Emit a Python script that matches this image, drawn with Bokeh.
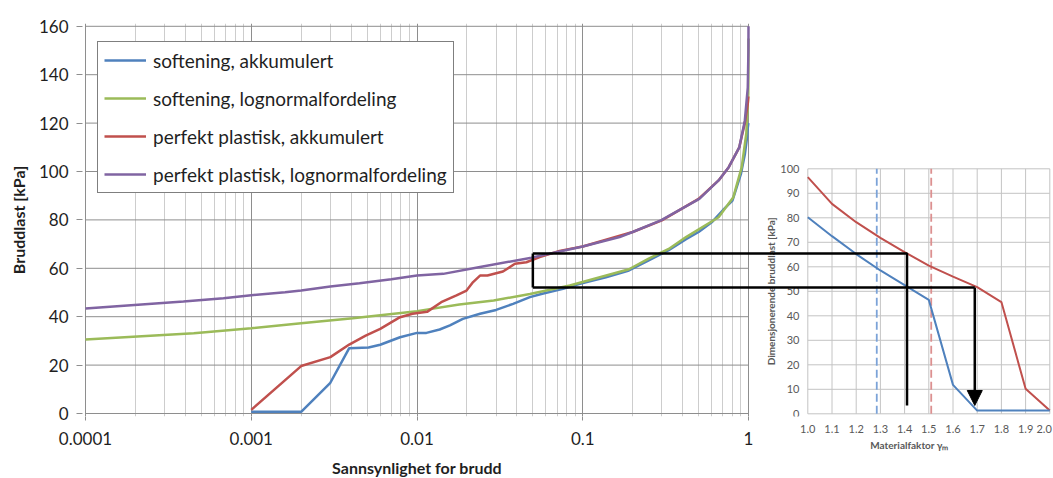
import math
from bokeh.plotting import figure
from bokeh.models import (Range1d, LinearScale, FixedTicker, Legend, LegendItem,
                          Arrow, NormalHead)
from bokeh.core.properties import value
from bokeh.embed import file_html
from bokeh.resources import INLINE

# ---------------- data ----------------
x_ticks = [0.0001, 0.001, 0.01, 0.1, 1]
x_tick_labels = ["0.0001", "0.001", "0.01", "0.1", "1"]
x_minor = [k * 10.0 ** e for e in (-4, -3, -2, -1) for k in range(2, 10)]
y_ticks = [0, 20, 40, 60, 80, 100, 120, 140, 160]

blue_p = [0.001, 0.002, 0.003, 0.0039, 0.0051, 0.006, 0.0079, 0.01, 0.0114, 0.0137,
          0.0158, 0.0189, 0.024, 0.030, 0.038, 0.048, 0.057, 0.076, 0.096, 0.138,
          0.19, 0.25, 0.33, 0.42, 0.5, 0.6, 0.7, 0.8, 0.9, 0.95, 0.98, 0.99, 0.999]
blue_y = [0.7, 0.7, 12.7, 27.0, 27.3, 28.4, 31.5, 33.3, 33.3, 34.7,
          36.4, 39.1, 41.2, 42.8, 45.3, 48.1, 49.5, 51.5, 53.6, 56.3,
          59.1, 63.3, 67.5, 72.0, 75.0, 79.0, 84.0, 88.0, 99.0, 107.0, 114.0, 118.0, 120.0]

green_p = [0.0001, 0.00045, 0.001, 0.002, 0.0041, 0.01, 0.018, 0.029, 0.048, 0.0835,
           0.19, 0.25, 0.33, 0.42, 0.66, 0.81, 0.91, 0.97, 0.997, 0.9999]
green_y = [30.6, 33.2, 35.2, 37.3, 39.4, 42.3, 45.0, 46.7, 49.4, 52.9,
           59.6, 64.0, 68.0, 72.9, 81.1, 89.4, 101.8, 115.7, 132.0, 155.0]

red_p = [0.001, 0.002, 0.003, 0.0039, 0.0049, 0.006, 0.0079, 0.0094, 0.0115, 0.014,
         0.0173, 0.0199, 0.0218, 0.024, 0.0266, 0.033, 0.039, 0.0457, 0.055, 0.0724,
         0.1, 0.2, 0.3, 0.5, 0.66, 0.76, 0.88, 0.95, 0.99, 0.998]
red_y = [1.5, 19.6, 23.3, 28.5, 32.2, 35.0, 39.8, 41.2, 42.0, 46.0,
         48.8, 50.8, 54.3, 57.0, 57.0, 58.7, 61.9, 62.5, 64.6, 67.2,
         69.0, 75.0, 79.8, 88.7, 96.3, 101.8, 110.0, 120.0, 128.0, 131.0]

purple_p = [0.0001, 0.00039, 0.00068, 0.001, 0.0016, 0.002, 0.003, 0.0045, 0.007, 0.01,
            0.0144, 0.024, 0.049, 0.1, 0.167, 0.2, 0.296, 0.505, 0.66, 0.76,
            0.88, 0.95, 0.99, 0.999, 0.9999]
purple_y = [43.4, 46.3, 47.6, 48.9, 50.1, 50.8, 52.5, 53.8, 55.5, 57.0,
            57.7, 60.5, 64.4, 69.0, 72.9, 75.0, 79.8, 88.7, 96.3, 101.8,
            110.0, 121.0, 134.7, 150.0, 160.0]

series_names = ["softening, akkumulert", "softening, lognormalfordeling",
                "perfekt plastisk, akkumulert", "perfekt plastisk, lognormalfordeling"]
series_colors = ["#4f81bd", "#9bbb59", "#c0504d", "#8064a2"]

# inset: design load vs material factor
gamma = [1.0, 1.1, 1.2, 1.3, 1.4, 1.5, 1.6, 1.7, 1.8, 1.9, 2.0]
inset_red = [96.6, 85.7, 78.2, 71.8, 66.0, 60.5, 56.0, 51.7, 45.6, 10.2, 1.3]
inset_blue = [80.2, 72.5, 65.2, 58.5, 52.5, 46.5, 11.8, 1.3, 1.3, 1.3, 1.3]
inset_x_ticks = [1.0, 1.1, 1.2, 1.3, 1.4, 1.5, 1.6, 1.7, 1.8, 1.9, 2.0]
inset_x_labels = ["1.0", "1.1", "1.2", "1.3", "1.4", "1.5", "1.6", "1.7", "1.8", "1.9", "2.0"]
inset_y_ticks = [0, 10, 20, 30, 40, 50, 60, 70, 80, 90, 100]
inset_y_labels = [str(v) for v in inset_y_ticks]
dash_blue_gamma = 1.285
dash_red_gamma = 1.51

# overlay (reading guide)
guide_p = 0.05          # probability where the box starts
level_upper = 65.4      # kPa
level_lower = 51.6      # kPa
gamma_upper = 1.41
gamma_lower = 1.69
guide_bottom = 3.4

# ---------------- layout calibration ----------------
W, H = 1053, 478
FL, FR, FT, FB = 82, 1053, 23, 416
X0_PX, DEC_PX = 85.0, 165.75      # px of 1e-4, px per decade
Y0_PX, Y_PX = 413.0, 2.42         # px of 0 kPa, px per kPa (main)
IX0_PX, IX_PX = 807.3, 242.0      # px of gamma 1.0, px per unit (inset)
IY0_PX, IY_PX = 413.3, 2.45       # px of 0 kPa, px per kPa (inset)

def main_to_inset_x(pv):
    px = X0_PX + DEC_PX * (math.log10(pv) + 4)
    return 1.0 + (px - IX0_PX) / IX_PX

FONT = "Lato"
TXT = "#1f1f1f"
GRID_MAJ = "#8e8e8e"
GRID_MIN = "#cdcdcd"

xr = Range1d(10 ** (-4 + (FL - X0_PX) / DEC_PX), 10 ** (-4 + (FR - X0_PX) / DEC_PX))
yr = Range1d((Y0_PX - FB) / Y_PX, (Y0_PX - FT) / Y_PX)

p = figure(width=W, height=H, x_axis_type="log", x_range=xr, y_range=yr,
           output_backend="svg", toolbar_location=None,
           min_border_left=FL, min_border_right=0, min_border_top=FT,
           min_border_bottom=H - FB)
p.outline_line_color = None
p.background_fill_color = "white"
p.border_fill_color = "white"

p.extra_x_ranges = {"inset": Range1d(1.0 + (FL - IX0_PX) / IX_PX, 1.0 + (FR - IX0_PX) / IX_PX)}
p.extra_x_scales = {"inset": LinearScale()}
p.extra_y_ranges = {"inset": Range1d((IY0_PX - FB) / IY_PX, (IY0_PX - FT) / IY_PX)}
p.extra_y_scales = {"inset": LinearScale()}

# main axes
xt = FixedTicker(ticks=x_ticks, minor_ticks=x_minor)
p.xaxis.ticker = xt
p.xgrid.ticker = xt
p.xaxis.major_label_overrides = dict(zip(x_ticks, x_tick_labels))
p.xaxis.axis_line_color = None
p.xaxis.major_tick_line_color = GRID_MAJ
p.xaxis.major_tick_out = 4
p.xaxis.major_tick_in = 0
p.xaxis.minor_tick_line_color = None
p.xaxis.major_label_standoff = 11
p.xaxis.major_label_text_font = FONT
p.xaxis.major_label_text_font_size = "17px"
p.xaxis.major_label_text_color = TXT
p.xaxis.bounds = (x_ticks[0], x_ticks[-1])

p.yaxis.ticker = FixedTicker(ticks=y_ticks)
p.yaxis.axis_line_color = None
p.yaxis.major_tick_line_color = GRID_MAJ
p.yaxis.major_tick_out = 6
p.yaxis.major_tick_in = 0
p.yaxis.minor_tick_line_color = None
p.yaxis.major_label_standoff = 8
p.yaxis.major_label_text_font = FONT
p.yaxis.major_label_text_font_size = "17px"
p.yaxis.major_label_text_color = TXT
p.yaxis.axis_label = "Bruddlast [kPa]"
p.yaxis.axis_label_text_font = FONT
p.yaxis.axis_label_text_font_size = "16px"
p.yaxis.axis_label_text_font_style = "bold"
p.yaxis.axis_label_text_color = TXT
p.yaxis.axis_label_standoff = 8

p.xgrid.grid_line_color = GRID_MAJ
p.xgrid.minor_grid_line_color = GRID_MIN
p.xgrid.bounds = (1e-5, 10)
p.ygrid.grid_line_color = None

# horizontal grid of main chart (limited to the probability axis)
n = len(y_ticks)
p.segment(x0=[x_ticks[0]] * n, x1=[x_ticks[-1]] * n, y0=y_ticks, y1=y_ticks,
          line_color=GRID_MAJ, line_width=1)

# x-axis title, centred under the probability axis (drawn at overlay level: not clipped)
p.text(x=[math.sqrt(x_ticks[0] * x_ticks[-1])], y=[(Y0_PX - 467) / Y_PX],
       text=["Sannsynlighet for brudd"], text_align="center", text_baseline="middle",
       text_font=value(FONT), text_font_size="16px", text_font_style="bold",
       text_color=TXT, level="overlay")

# main curves
renderers = []
for xs, ys, c in [(blue_p, blue_y, series_colors[0]), (green_p, green_y, series_colors[1]),
                  (red_p, red_y, series_colors[2]), (purple_p, purple_y, series_colors[3])]:
    renderers.append(p.line(xs, ys, line_color=c, line_width=2.5))

legend = Legend(items=[LegendItem(label=nm, renderers=[r]) for nm, r in zip(series_names, renderers)],
                location=(15, 223))
legend.border_line_color = "black"
legend.border_line_width = 1
legend.background_fill_color = "white"
legend.background_fill_alpha = 1
legend.padding = 6
legend.spacing = 14
legend.margin = 0
legend.label_height = 24
legend.glyph_height = 24
legend.glyph_width = 42
legend.label_standoff = 7
legend.label_text_font = FONT
legend.label_text_font_size = "19px"
legend.label_text_color = TXT
p.add_layout(legend)

# ---------------- inset chart ----------------
IN = dict(x_range_name="inset", y_range_name="inset")
INSET_GRID = "#c4c4c4"
ni = len(inset_x_ticks)
p.segment(x0=inset_x_ticks, x1=inset_x_ticks, y0=[inset_y_ticks[0]] * ni, y1=[inset_y_ticks[-1]] * ni,
          line_color=INSET_GRID, line_width=1, **IN)
nj = len(inset_y_ticks)
p.segment(x0=[inset_x_ticks[0]] * nj, x1=[inset_x_ticks[-1]] * nj, y0=inset_y_ticks, y1=inset_y_ticks,
          line_color=INSET_GRID, line_width=1, **IN)

p.segment(x0=[dash_blue_gamma], x1=[dash_blue_gamma], y0=[inset_y_ticks[0]], y1=[inset_y_ticks[-1]],
          line_color="#7ba3d8", line_width=1.8, line_dash="8 4", **IN)
p.segment(x0=[dash_red_gamma], x1=[dash_red_gamma], y0=[inset_y_ticks[0]], y1=[inset_y_ticks[-1]],
          line_color="#dc9090", line_width=1.8, line_dash="8 4", **IN)

p.line(gamma, inset_red, line_color="#c0504d", line_width=2, **IN)
p.line(gamma, inset_blue, line_color="#4f81bd", line_width=2, **IN)

INSET_TXT = "#595959"
ylab_x = 1.0 + (799 - IX0_PX) / IX_PX
p.text(x=[ylab_x] * nj, y=inset_y_ticks, text=inset_y_labels, text_align="right",
       text_baseline="middle", text_font=value(FONT), text_font_size="11px",
       text_color=INSET_TXT, **IN)

# inset x tick labels (below the frame -> overlay level so they are not clipped)
xlab_y = (IY0_PX - 428) / IY_PX
p.text(x=inset_x_ticks[:-1], y=[xlab_y] * (ni - 1), text=inset_x_labels[:-1],
       text_align="center", text_baseline="middle", text_font=value(FONT),
       text_font_size="11px", text_color=INSET_TXT, level="overlay", **IN)
p.text(x=inset_x_ticks[-1:], y=[xlab_y], text=inset_x_labels[-1:],
       text_align="right", x_offset=2, text_baseline="middle", text_font=value(FONT),
       text_font_size="11px", text_color=INSET_TXT, level="overlay", **IN)

p.text(x=[1.0 + (770 - IX0_PX) / IX_PX], y=[(inset_y_ticks[0] + inset_y_ticks[-1]) / 2],
       text=["Dimensjonerende bruddlast [kPa]"], angle=math.pi / 2, text_align="center",
       text_baseline="middle", text_font=value(FONT), text_font_size="10px",
       text_font_style="bold", text_color=INSET_TXT, **IN)

p.text(x=[1.42], y=[(IY0_PX - 444) / IY_PX], text=["Materialfaktor γₘ"],
       text_align="center", text_baseline="middle", text_font=value(FONT),
       text_font_size="10px", text_font_style="bold", text_color=INSET_TXT,
       level="overlay", **IN)

# ---------------- overlay guide lines ----------------
xl = main_to_inset_x(guide_p)
p.multi_line(xs=[[xl, gamma_upper, gamma_upper], [xl, gamma_lower], [xl, xl]],
             ys=[[level_upper, level_upper, guide_bottom], [level_lower, level_lower], [level_lower, level_upper]],
             line_color="black", line_width=2.5, **IN)
p.add_layout(Arrow(end=NormalHead(size=15, fill_color="black", line_color="black"),
                   x_start=gamma_lower, y_start=level_lower, x_end=gamma_lower, y_end=guide_bottom,
                   line_color="black", line_width=2.5, **IN))

open("out.html", "w").write(file_html(p, INLINE))
